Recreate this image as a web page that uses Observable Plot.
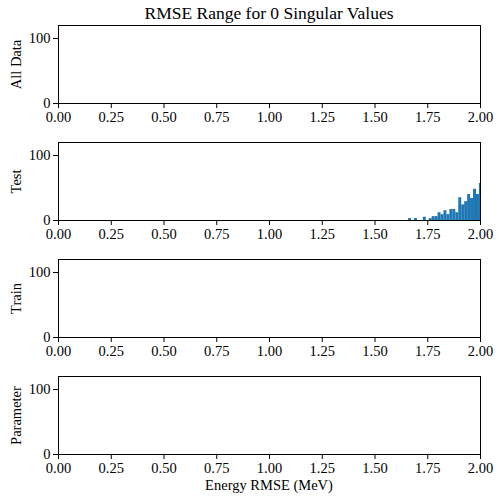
<!DOCTYPE html>
<html>
<head>
<meta charset="utf-8">
<script src="https://cdn.jsdelivr.net/npm/d3@7"></script>
<script src="https://cdn.jsdelivr.net/npm/@observablehq/plot@0.6"></script>
<style>
  html, body { margin: 0; padding: 0; background: white; }
  #root { position: relative; width: 504px; height: 504px; font-family: "Liberation Serif", "DejaVu Serif", serif; color: black; }
  .title { position: absolute; left: 40px; width: 458px; top: 3px; text-align: center; font-size: 17.5px; line-height: 20px; z-index: 2; white-space: nowrap; }
  .xlabel { position: absolute; left: 58px; width: 422px; top: 477px; text-align: center; font-size: 14.5px; line-height: 17px; z-index: 2; }
  .panel { position: absolute; left: 0; z-index: 1; }
</style>
</head>
<body>
<div id="root">
  <div class="title">RMSE Range for 0 Singular Values</div>
  <div class="xlabel">Energy RMSE (MeV)</div>
</div>
<script>
const panelLabels = ["All Data", "Test", "Train", "Parameter"];
const xTicks = [0, 0.25, 0.5, 0.75, 1.0, 1.25, 1.5, 1.75, 2.0];
const yTicks = [0, 100];

// Histogram bin edges for the Test subset (last bin extends past 2.0 and is clipped)
const testBinEdges = [1.659, 1.673, 1.687, 1.701, 1.715, 1.729, 1.743, 1.757, 1.771, 1.785,
  1.799, 1.813, 1.827, 1.841, 1.855, 1.869, 1.883, 1.897, 1.911, 1.925,
  1.939, 1.953, 1.967, 1.981, 1.995, 2.009];
const testCounts = [3, 0, 3, 0, 0, 5, 0, 3, 6, 6,
  12, 9, 15, 9, 17, 17, 12, 35, 24, 29,
  40, 34, 48, 40, 57];

const allDataCounts = [];
const trainCounts = [];
const parameterCounts = [];

const testBins = testCounts.map((c, i) => ({x1: testBinEdges[i], x2: testBinEdges[i + 1], count: c}));
const panelBins = [allDataCounts, testBins, trainCounts, parameterCounts];

const root = document.getElementById("root");
panelLabels.forEach((label, k) => {
  const bins = panelBins[k];
  const marks = [];
  if (bins.length) {
    marks.push(Plot.rectY(bins, {x1: "x1", x2: "x2", y: "count", fill: "#1f77b4", clip: true}));
  }
  marks.push(Plot.frame({stroke: "black", strokeWidth: 1}));
  marks.push(Plot.axisX({ticks: xTicks, tickFormat: d3.format(".2f"), tickSize: 5, tickPadding: 3, label: null, fontSize: 14.5}));
  marks.push(Plot.axisY({ticks: yTicks, tickSize: 5, tickPadding: 3, label, labelAnchor: "center", labelArrow: "none", labelOffset: 48, fontSize: 14.5}));
  const chart = Plot.plot({
    width: 504,
    height: 117,
    marginLeft: 58,
    marginRight: 24,
    marginTop: 15,
    marginBottom: 24,
    style: {fontFamily: "'Liberation Serif', 'DejaVu Serif', serif", fontSize: "14.5px", color: "black", background: "transparent"},
    x: {domain: [0, 2]},
    y: {domain: [0, 120]},
    marks
  });
  chart.classList.add("panel");
  chart.style.top = (10 + 117 * k) + "px";
  chart.style.position = "absolute";
  root.appendChild(chart);
});
</script>
</body>
</html>
